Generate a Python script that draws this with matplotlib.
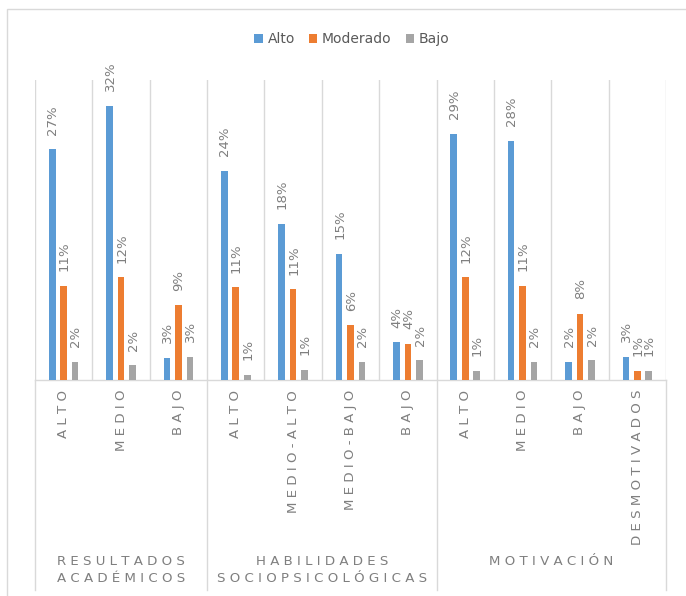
import numpy as np
import matplotlib
matplotlib.use("Agg")
import matplotlib.pyplot as plt
from matplotlib.patches import Rectangle

# datos (porcentajes)
categorias = ["ALTO", "MEDIO", "BAJO",
              "ALTO", "MEDIO-ALTO", "MEDIO-BAJO", "BAJO",
              "ALTO", "MEDIO", "BAJO", "DESMOTIVADOS"]
grupos = ["RESULTADOS\nACADÉMICOS", "HABILIDADES\nSOCIOPSICOLÓGICAS", "MOTIVACIÓN"]
tam_grupos = [3, 4, 4]
series = ["Alto", "Moderado", "Bajo"]
alto = [26.9, 32.0, 2.6, 24.4, 18.2, 14.7, 4.4, 28.7, 27.9, 2.1, 2.7]
moderado = [11.0, 12.0, 8.7, 10.8, 10.6, 6.4, 4.2, 12.0, 11.0, 7.7, 1.05]
bajo = [2.1, 1.7, 2.7, 0.6, 1.2, 2.1, 2.3, 1.05, 2.1, 2.3, 1.05]

colores = ["#5B9BD5", "#ED7D31", "#A5A5A5"]
gris_linea = "#D9D9D9"
gris_texto = "#7F7F7F"

W, H = 686, 596
fig = plt.figure(figsize=(W / 100, H / 100), dpi=100)
ax = fig.add_axes([35 / W, (H - 380) / H, (666 - 35) / W, 300 / H])

x = np.arange(len(categorias))
ancho = 0.115
desp = 0.2
for i, (vals, nombre) in enumerate(zip([alto, moderado, bajo], series)):
    pos = x + (i - 1) * desp
    ax.bar(pos, vals, width=ancho, color=colores[i], label=nombre, zorder=3)
    for px, v in zip(pos, vals):
        ax.annotate(f"{round(v)}%", (px, v), xytext=(0.5, 10.5),
                    textcoords="offset points", rotation=90,
                    ha="center", va="bottom", fontsize=9.5, color=gris_texto)

ax.set_xlim(-0.5, len(categorias) - 0.5)
ax.set_ylim(0, 35)
ax.set_xticks([])
ax.set_yticks([])
for s in ["top", "left", "right"]:
    ax.spines[s].set_visible(False)
ax.spines["bottom"].set_color(gris_linea)
ax.spines["bottom"].set_linewidth(1)

# lineas verticales entre categorias
for b in np.arange(-0.5, len(categorias), 1.0):
    ax.axvline(b, color=gris_linea, lw=1, zorder=1)

# etiquetas de categoria con espaciado
for xi, c in zip(x, categorias):
    ax.text(xi, -0.033, " ".join(c), transform=ax.get_xaxis_transform(),
            rotation=90, ha="center", va="top", fontsize=9.6, color=gris_texto)

# separadores y nombres de grupo
limites = np.concatenate([[0], np.cumsum(tam_grupos)]) - 0.5
for b in limites:
    ax.plot([b, b], [0, -0.7], transform=ax.get_xaxis_transform(),
            color=gris_linea, lw=1, clip_on=False)
for g, a, b in zip(grupos, limites[:-1], limites[1:]):
    txt = "\n".join(" ".join(linea) for linea in g.split("\n"))
    ax.text((a + b) / 2, -(555 - 380) / 300, txt, transform=ax.get_xaxis_transform(),
            ha="center", va="top", fontsize=9.6, color=gris_texto, linespacing=1.4)

leg = fig.legend(loc="center", bbox_to_anchor=(352 / W, 1 - 39 / H), ncol=3,
                 frameon=False, fontsize=10, handlelength=0.6, handleheight=0.6,
                 handletextpad=0.35, columnspacing=1.0)
for t in leg.get_texts():
    t.set_color("#595959")

# borde del grafico
fig.add_artist(Rectangle((7 / W, -0.1), 2, 1 - 9 / H + 0.1, transform=fig.transFigure,
                         fill=False, edgecolor=gris_linea, lw=1))

fig.savefig("out.png", dpi=100)
